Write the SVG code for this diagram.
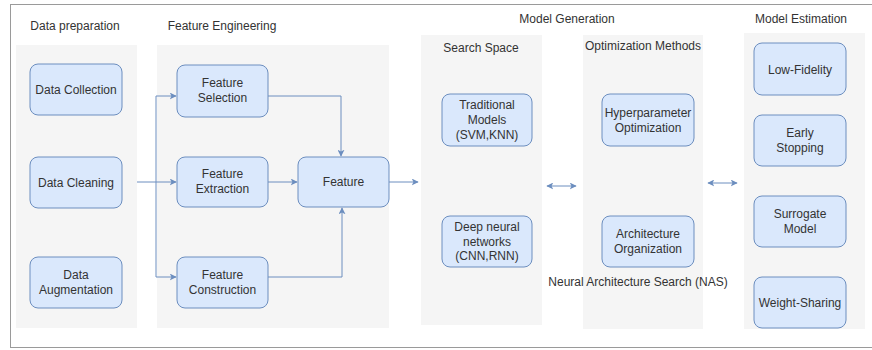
<svg xmlns="http://www.w3.org/2000/svg" width="872" height="350" viewBox="0 0 872 350">
<defs>
<marker id="ah" viewBox="0 0 10 10" refX="9" refY="5" markerWidth="7" markerHeight="7" orient="auto-start-reverse" markerUnits="userSpaceOnUse">
<path d="M0,0 L10,5 L0,10 L2.5,5 Z" fill="#6c8ebf"/>
</marker>
<style>
.bg{fill:#ffffff}
.frame{fill:none;stroke:#9a9a9a;stroke-width:1}
.panel{fill:#f5f5f5;stroke:none}
.node rect{fill:#dae8fc;stroke:#6c8ebf;stroke-width:1}
text{font-family:"Liberation Sans",Arial,sans-serif;font-size:12px;fill:#333333;text-anchor:middle;dominant-baseline:central}
.title{font-size:12px}
.conn path{fill:none;stroke:#6c8ebf;stroke-width:1;marker-end:url(#ah)}
.conn path.both{marker-start:url(#ah)}
</style>
</defs>
<rect class="bg" x="0" y="0" width="872" height="350"/>
<rect class="frame" x="10.5" y="4.5" width="880" height="343"/>

<g id="panels">
<rect class="panel" x="16" y="45" width="121" height="283"/>
<rect class="panel" x="157" y="45" width="232" height="283"/>
<rect class="panel" x="421" y="35" width="121" height="290"/>
<rect class="panel" x="583" y="35" width="120" height="294"/>
<rect class="panel" x="744" y="33" width="121" height="296"/>
</g>

<g id="titles">
<text class="title" x="75" y="26">Data preparation</text>
<text class="title" x="222" y="26">Feature Engineering</text>
<text class="title" x="567" y="19">Model Generation</text>
<text class="title" x="801" y="19">Model Estimation</text>
<text class="title" x="481" y="48">Search Space</text>
<text class="title" x="643" y="46">Optimization Methods</text>
<text class="title" x="638" y="282">Neural Architecture Search (NAS)</text>
</g>

<g id="data-collection" class="node"><rect x="30" y="64" width="92" height="51" rx="8"/><text x="76" y="89.5">Data Collection</text></g>
<g id="data-cleaning" class="node"><rect x="30" y="157" width="92" height="51" rx="8"/><text x="76" y="182.5">Data Cleaning</text></g>
<g id="data-augmentation" class="node"><rect x="30" y="257" width="92" height="51" rx="8"/><text x="76" y="275">Data</text><text x="76" y="290">Augmentation</text></g>

<g id="feature-selection" class="node"><rect x="177" y="65" width="91" height="52" rx="8"/><text x="222.5" y="83">Feature</text><text x="222.5" y="98">Selection</text></g>
<g id="feature-extraction" class="node"><rect x="177" y="157" width="91" height="50" rx="8"/><text x="222.5" y="174">Feature</text><text x="222.5" y="189">Extraction</text></g>
<g id="feature-construction" class="node"><rect x="177" y="257" width="91" height="51" rx="8"/><text x="222.5" y="275">Feature</text><text x="222.5" y="290">Construction</text></g>
<g id="feature" class="node"><rect x="298" y="157" width="91" height="50" rx="8"/><text x="343.5" y="182">Feature</text></g>

<g id="traditional-models" class="node"><rect x="442" y="94" width="90" height="52" rx="8"/><text x="487" y="105">Traditional</text><text x="487" y="120">Models</text><text x="487" y="135">(SVM,KNN)</text></g>
<g id="deep-neural-networks" class="node"><rect x="442" y="216" width="90" height="51" rx="8"/><text x="487" y="227">Deep neural</text><text x="487" y="241.5">networks</text><text x="487" y="256">(CNN,RNN)</text></g>

<g id="hyperparameter-optimization" class="node"><rect x="602" y="94" width="92" height="52" rx="8"/><text x="648" y="113">Hyperparameter</text><text x="648" y="128">Optimization</text></g>
<g id="architecture-organization" class="node"><rect x="602" y="216" width="92" height="51" rx="8"/><text x="648" y="234">Architecture</text><text x="648" y="249">Organization</text></g>

<g id="low-fidelity" class="node"><rect x="754" y="43" width="92" height="52" rx="8"/><text x="800" y="69.5">Low-Fidelity</text></g>
<g id="early-stopping" class="node"><rect x="754" y="115" width="92" height="51" rx="8"/><text x="800" y="133">Early</text><text x="800" y="148">Stopping</text></g>
<g id="surrogate-model" class="node"><rect x="754" y="196" width="92" height="51" rx="8"/><text x="800" y="214">Surrogate</text><text x="800" y="229">Model</text></g>
<g id="weight-sharing" class="node"><rect x="754" y="277" width="92" height="51" rx="8"/><text x="800" y="302.5">Weight-Sharing</text></g>

<g id="connectors" class="conn">
<path d="M137,182 L176,182"/>
<path d="M156,182 L156,96 L176,96"/>
<path d="M156,182 L156,277 L176,277"/>
<path d="M268,96 L341,96 L341,156"/>
<path d="M268,182 L297,182"/>
<path d="M268,277 L342,277 L342,208"/>
<path d="M389,182 L418,182"/>
<path class="both" d="M547,186 L576,186"/>
<path class="both" d="M708,183 L737,183"/>
</g>
</svg>
